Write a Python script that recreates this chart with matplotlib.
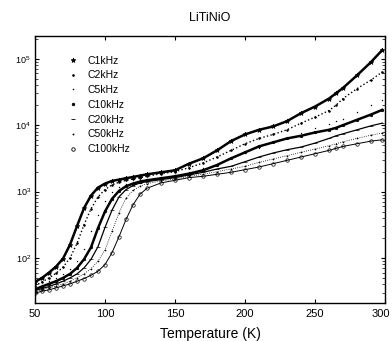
import matplotlib
matplotlib.use("Agg")
import matplotlib.pyplot as plt
import matplotlib.transforms as mtransforms
from matplotlib.lines import Line2D
import numpy as np

plt.rcParams['font.family'] = ['Liberation Sans', 'DejaVu Sans']

# temperature points (K)
temp = [50, 55, 60, 65, 70, 75, 80, 85, 90, 95, 100, 105, 110, 115, 120, 125, 130, 140, 150,
        160, 170, 180, 190, 200, 210, 220, 230, 240, 250, 260, 265, 270, 280, 290, 298]

# log10 of the permittivity, one list per frequency
lg_1k = [1.64, 1.70, 1.78, 1.87, 1.99, 2.20, 2.48, 2.75, 2.94, 3.06, 3.12, 3.16, 3.18, 3.20, 3.22, 3.24, 3.26, 3.29, 3.32,
         3.42, 3.50, 3.62, 3.76, 3.86, 3.93, 3.98, 4.06, 4.18, 4.28, 4.40, 4.48, 4.56, 4.75, 4.95, 5.13]
lg_2k = [1.58, 1.64, 1.70, 1.77, 1.86, 2.00, 2.22, 2.50, 2.74, 2.92, 3.03, 3.10, 3.14, 3.17, 3.19, 3.21, 3.23, 3.27, 3.30,
         3.36, 3.43, 3.52, 3.62, 3.72, 3.80, 3.86, 3.93, 4.03, 4.12, 4.22, 4.30, 4.40, 4.55, 4.68, 4.80]
lg_5k = [1.55, 1.60, 1.65, 1.70, 1.76, 1.84, 1.96, 2.14, 2.40, 2.65, 2.86, 2.99, 3.07, 3.12, 3.15, 3.17, 3.19, 3.22, 3.25,
         3.30, 3.35, 3.42, 3.50, 3.58, 3.66, 3.74, 3.81, 3.88, 3.95, 4.02, 4.06, 4.10, 4.20, 4.30, 4.38]
lg_10k = [1.53, 1.57, 1.61, 1.65, 1.70, 1.76, 1.85, 1.98, 2.16, 2.45, 2.70, 2.89, 3.01, 3.08, 3.12, 3.15, 3.17, 3.20, 3.23,
          3.27, 3.32, 3.40, 3.50, 3.59, 3.68, 3.74, 3.80, 3.84, 3.89, 3.93, 3.96, 4.00, 4.08, 4.16, 4.23]
lg_20k = [1.51, 1.54, 1.57, 1.61, 1.65, 1.70, 1.76, 1.85, 1.98, 2.17, 2.46, 2.72, 2.92, 3.03, 3.09, 3.13, 3.15, 3.18, 3.21,
          3.25, 3.29, 3.34, 3.38, 3.45, 3.52, 3.58, 3.63, 3.67, 3.73, 3.80, 3.84, 3.87, 3.93, 3.99, 4.03]
lg_50k = [1.49, 1.52, 1.55, 1.58, 1.61, 1.65, 1.70, 1.76, 1.84, 1.95, 2.12, 2.40, 2.68, 2.90, 3.02, 3.08, 3.12, 3.16, 3.19,
          3.23, 3.26, 3.30, 3.34, 3.38, 3.44, 3.49, 3.54, 3.59, 3.64, 3.69, 3.72, 3.75, 3.80, 3.85, 3.88]
lg_100k = [1.47, 1.50, 1.52, 1.55, 1.58, 1.61, 1.65, 1.69, 1.74, 1.80, 1.90, 2.08, 2.32, 2.58, 2.80, 2.96, 3.05, 3.13, 3.17,
           3.21, 3.23, 3.26, 3.29, 3.33, 3.37, 3.42, 3.47, 3.52, 3.57, 3.62, 3.65, 3.68, 3.72, 3.76, 3.78]

labels = ['C1kHz', 'C2kHz', 'C5kHz', 'C10kHz', 'C20kHz', 'C50kHz', 'C100kHz']
series = [lg_1k, lg_2k, lg_5k, lg_10k, lg_20k, lg_50k, lg_100k]

# line width, line style, marker, marker size, marker face
styles = [
    (1.8, '-', '*', 3.5, 'k'),
    (1.0, ':', '.', 2.5, 'k'),
    (0.0, 'none', '.', 1.0, 'k'),
    (1.8, '-', 'o', 1.8, 'k'),
    (0.9, '-', '_', 3.0, 'k'),
    (0.6, ':', '.', 1.5, 'k'),
    (0.7, '-', 'o', 2.5, 'none'),
]

fig = plt.figure(figsize=(3.92, 3.41), dpi=100)
ax = fig.add_axes([35 / 392, 1 - 303 / 341, 350 / 392, 267 / 341])

t = np.array(temp)
for lg, (lw, ls, mk, ms, mf) in zip(series, styles):
    ax.plot(t, 10 ** np.array(lg), color='k', lw=lw, ls=ls, marker=mk, ms=ms,
            mfc=mf, mec='k', mew=0.5)

ax.set_yscale('log')
ax.set_xlim(50, 300)
ax.set_ylim(21, 2.2e5)
ax.set_xticks([50, 100, 150, 200, 250, 300])
ax.tick_params(which='both', direction='in', top=True, right=True, pad=3)
ax.tick_params(axis='x', labelsize=8, pad=4)
ax.tick_params(axis='y', labelsize=6.5)
ax.tick_params(which='major', length=3, width=0.8)
ax.tick_params(which='minor', length=2, width=0.5)
for s in ax.spines.values():
    s.set_linewidth(1.0)

# keep the last x label inside the picture
last = ax.get_xticklabels()[-1]
last.set_transform(last.get_transform() + mtransforms.ScaledTranslation(-4 / 100, 0, fig.dpi_scale_trans))

ax.set_title('LiTiNiO', fontsize=9, pad=11)
ax.set_xlabel('Temperature (K)', fontsize=10, labelpad=6)

# legend shows markers only
handles = []
for lw, ls, mk, ms, mf in styles:
    handles.append(Line2D([], [], ls='none', marker=mk, ms=ms, color='k', mfc=mf, mew=0.6))
ax.legend(handles, labels, loc='upper left', bbox_to_anchor=(0.066, 0.962), frameon=False,
          fontsize=7.5, handlelength=1.0, handletextpad=0.9, labelspacing=0.46)

fig.savefig('out.png', dpi=100)
